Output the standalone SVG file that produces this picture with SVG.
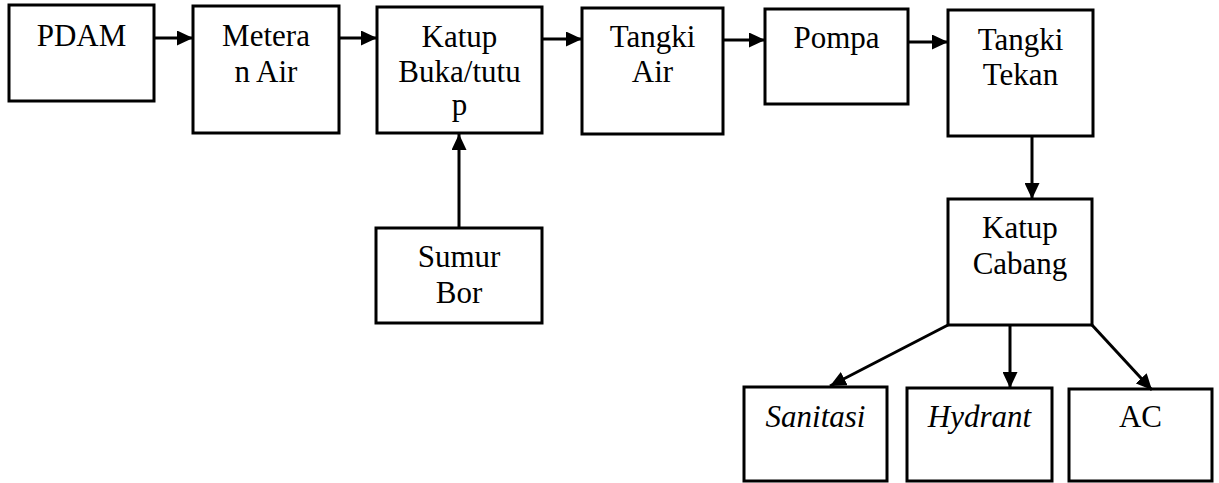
<svg xmlns="http://www.w3.org/2000/svg" width="1219" height="483" viewBox="0 0 1219 483">
  <style>
    .box { fill: #fff; stroke: #000; stroke-width: 3; }
    .lbl { font-size: 31px; fill: #000; text-anchor: middle; }
    .it { font-style: italic; }
    .wire { stroke: #000; stroke-width: 3; fill: none; marker-end: url(#head); }
  </style>
  <defs>
    <marker id="head" markerUnits="userSpaceOnUse" markerWidth="17" markerHeight="15" refX="16" refY="7.5" orient="auto">
      <path d="M0,0 L16,7.5 L0,15 Z" fill="#000"/>
    </marker>
  </defs>

  <rect width="1219" height="483" fill="#fff"/>

  <g font-family="Liberation Serif, serif">
    <!-- supply chain nodes -->
    <g id="pdam">
      <rect class="box" x="9" y="5" width="145" height="96"/>
      <text class="lbl" x="81.5" y="46">PDAM</text>
    </g>
    <g id="meteran-air">
      <rect class="box" x="193" y="6" width="146" height="127"/>
      <text class="lbl" x="266" y="46">Metera</text>
      <text class="lbl" x="266" y="82">n Air</text>
    </g>
    <g id="katup-buka-tutup">
      <rect class="box" x="377" y="7" width="165" height="126"/>
      <text class="lbl" x="459.5" y="47">Katup</text>
      <text class="lbl" x="459.5" y="82">Buka/tutu</text>
      <text class="lbl" x="459.5" y="115">p</text>
    </g>
    <g id="tangki-air">
      <rect class="box" x="582" y="8" width="141" height="126"/>
      <text class="lbl" x="652.5" y="47">Tangki</text>
      <text class="lbl" x="652.5" y="82">Air</text>
    </g>
    <g id="pompa">
      <rect class="box" x="765" y="9" width="143" height="95"/>
      <text class="lbl" x="836.5" y="48">Pompa</text>
    </g>
    <g id="tangki-tekan">
      <rect class="box" x="948" y="10" width="145" height="126"/>
      <text class="lbl" x="1020.5" y="50">Tangki</text>
      <text class="lbl" x="1020.5" y="85">Tekan</text>
    </g>
    <g id="sumur-bor">
      <rect class="box" x="376" y="228" width="166" height="95"/>
      <text class="lbl" x="459" y="267">Sumur</text>
      <text class="lbl" x="459" y="303">Bor</text>
    </g>
    <g id="katup-cabang">
      <rect class="box" x="948" y="199" width="144" height="126"/>
      <text class="lbl" x="1020" y="238">Katup</text>
      <text class="lbl" x="1020" y="274">Cabang</text>
    </g>

    <!-- consumers -->
    <g id="sanitasi">
      <rect class="box" x="744" y="387" width="143" height="94"/>
      <text class="lbl it" x="815.5" y="427">Sanitasi</text>
    </g>
    <g id="hydrant">
      <rect class="box" x="907" y="388" width="145" height="93"/>
      <text class="lbl it" x="979.5" y="427">Hydrant</text>
    </g>
    <g id="ac">
      <rect class="box" x="1069" y="389" width="143" height="92"/>
      <text class="lbl" x="1140.5" y="427">AC</text>
    </g>
  </g>

  <!-- flow connectors -->
  <g id="connectors">
    <line class="wire" x1="154" y1="38" x2="193" y2="38"/>
    <line class="wire" x1="339" y1="38" x2="377" y2="38"/>
    <line class="wire" x1="542" y1="39" x2="582" y2="39"/>
    <line class="wire" x1="723" y1="40" x2="765" y2="40"/>
    <line class="wire" x1="908" y1="42" x2="948" y2="42"/>
    <line class="wire" x1="459" y1="228" x2="459" y2="134"/>
    <line class="wire" x1="1032" y1="136" x2="1032" y2="199"/>
    <line class="wire" x1="948" y1="325" x2="830" y2="386"/>
    <line class="wire" x1="1010" y1="325" x2="1010" y2="388"/>
    <line class="wire" x1="1092" y1="325" x2="1152" y2="390"/>
  </g>
</svg>
